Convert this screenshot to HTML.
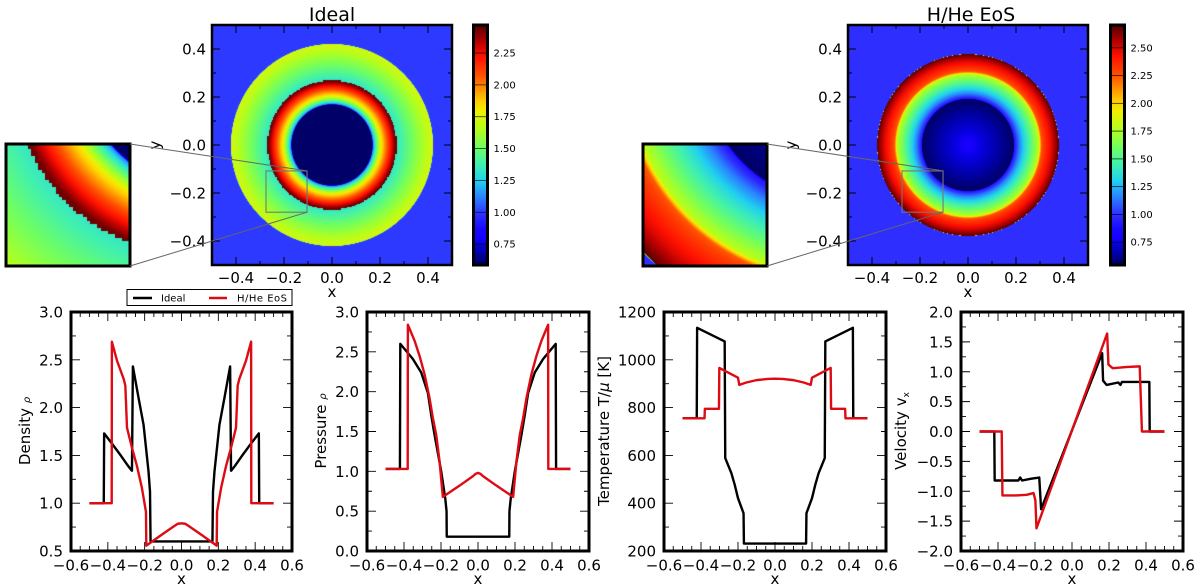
<!DOCTYPE html>
<html lang="en">
<head>
<meta charset="utf-8">
<title>Ideal vs H/He EoS blast wave</title>
<style>
html,body{margin:0;padding:0;background:#fff;width:1200px;height:588px;overflow:hidden;position:relative}
svg{display:block;position:absolute;left:0;top:0;z-index:1}
canvas{position:absolute;z-index:0;display:block}
text{font-family:"DejaVu Sans","Liberation Sans",sans-serif;fill:#000}
</style>
</head>
<body>
<svg id="figure" xmlns="http://www.w3.org/2000/svg" width="1200" height="588" viewBox="0 0 1200 588"></svg>
<script>
// ---- Data ----
const xIdealDensity = [-0.5,-0.422,-0.42,-0.38,-0.33,-0.29,-0.27,-0.269,-0.264,-0.233,-0.206,-0.179,-0.171,-0.168,0.168,0.171,0.179,0.206,0.233,0.264,0.269,0.27,0.29,0.33,0.38,0.42,0.422,0.5];
const idealDensity  = [1,1,1.73,1.63,1.5,1.39,1.34,1.34,2.43,2.1,1.82,1.33,1.12,0.6,0.6,1.12,1.33,1.82,2.1,2.43,1.34,1.34,1.39,1.5,1.63,1.73,1,1];
const xHeDensity = [-0.5,-0.379,-0.378,-0.35,-0.314,-0.305,-0.296,-0.269,-0.242,-0.215,-0.193,-0.191,-0.1,-0.04,-0.02,0,0.02,0.04,0.1,0.191,0.193,0.215,0.242,0.269,0.296,0.305,0.314,0.35,0.378,0.379,0.5];
const heDensity  = [1,1,2.69,2.49,2.3,2.23,1.79,1.58,1.39,1.16,0.91,0.556,0.68,0.76,0.785,0.79,0.785,0.76,0.68,0.556,0.91,1.16,1.39,1.58,1.79,2.23,2.3,2.49,2.69,1,1];

const xIdealPressure = [-0.5,-0.422,-0.42,-0.352,-0.307,-0.271,-0.253,-0.235,-0.199,-0.177,-0.17,-0.169,0.169,0.17,0.177,0.199,0.235,0.253,0.271,0.307,0.352,0.42,0.422,0.5];
const idealPressure  = [1.03,1.03,2.6,2.41,2.24,1.985,1.71,1.46,1.0,0.66,0.5,0.18,0.18,0.5,0.66,1.0,1.46,1.71,1.985,2.24,2.41,2.6,1.03,1.03];
const xHePressure = [-0.5,-0.38,-0.379,-0.343,-0.316,-0.289,-0.262,-0.244,-0.226,-0.208,-0.19,-0.1,-0.027,-0.012,0,0.012,0.027,0.1,0.19,0.208,0.226,0.244,0.262,0.289,0.316,0.343,0.379,0.38,0.5];
const hePressure  = [1.03,1.03,2.84,2.64,2.45,2.22,1.92,1.67,1.46,1.13,0.68,0.82,0.94,0.97,0.98,0.97,0.94,0.82,0.68,1.13,1.46,1.67,1.92,2.22,2.45,2.64,2.84,1.03,1.03];

const xIdealTemp = [-0.5,-0.423,-0.421,-0.272,-0.269,-0.236,-0.218,-0.2,-0.17,-0.168,0.168,0.17,0.2,0.218,0.236,0.269,0.272,0.421,0.423,0.5];
const idealTemp  = [755,755,1134,1077,589,526,478,421,358,231,231,358,421,478,526,589,1077,1134,755,755];
const xHeTemp = [-0.5,-0.381,-0.379,-0.303,-0.301,-0.2,-0.193,-0.155,-0.1,-0.04,0,0.04,0.1,0.155,0.193,0.2,0.301,0.303,0.379,0.381,0.5];
const heTemp  = [755,755,795,795,966,925,895,905,915,920,921,920,915,905,895,925,966,795,795,755,755];

const xIdealVel = [-0.5,-0.42,-0.418,-0.29,-0.28,-0.27,-0.22,-0.177,-0.167,0.163,0.168,0.187,0.25,0.262,0.27,0.418,0.42,0.5];
const idealVel  = [0,0,-0.82,-0.82,-0.77,-0.82,-0.79,-0.77,-1.3,1.31,0.85,0.78,0.82,0.78,0.83,0.83,0,0];
const xHeVel = [-0.5,-0.38,-0.376,-0.3,-0.245,-0.208,-0.198,-0.192,0.19,0.197,0.22,0.3,0.366,0.378,0.5];
const heVel  = [0,0,-1.07,-1.07,-1.06,-1.03,-1.15,-1.62,1.64,1.12,1.06,1.08,1.09,0,0];

const panelXTickLabels = ["\u22120.6","\u22120.4","\u22120.2","0.0","0.2","0.4","0.6"];
const panelXTickValues = [-0.6,-0.4,-0.2,0,0.2,0.4,0.6];
const heatTickValues = [-0.4,-0.2,0,0.2,0.4];
const heatTickLabels = ["\u22120.4","\u22120.2","0.0","0.2","0.4"];
const densityTicks = [0.5,1,1.5,2,2.5,3];
const densityTickLabels = ["0.5","1.0","1.5","2.0","2.5","3.0"];
const pressureTicks = [0,0.5,1,1.5,2,2.5,3];
const pressureTickLabels = ["0.0","0.5","1.0","1.5","2.0","2.5","3.0"];
const tempTicks = [200,400,600,800,1000,1200];
const tempTickLabels = ["200","400","600","800","1000","1200"];
const velTicks = [-2,-1.5,-1,-0.5,0,0.5,1,1.5,2];
const velTickLabels = ["\u22122.0","\u22121.5","\u22121.0","\u22120.5","0.0","0.5","1.0","1.5","2.0"];
const cbarIdealTicks = [0.75,1,1.25,1.5,1.75,2,2.25];
const cbarIdealLabels = ["0.75","1.00","1.25","1.50","1.75","2.00","2.25"];
const cbarHeTicks = [0.75,1,1.25,1.5,1.75,2,2.25,2.5];
const cbarHeLabels = ["0.75","1.00","1.25","1.50","1.75","2.00","2.25","2.50"];

// ---- Helpers ----
const NS = "http://www.w3.org/2000/svg";
const svg = document.getElementById("figure");
function make(tag, attrs, parent) {
  const el = document.createElementNS(NS, tag);
  for (const k in attrs) el.setAttribute(k, attrs[k]);
  (parent || svg).appendChild(el);
  return el;
}
function label(str, x, y, size, anchor, parent, rotate) {
  const attrs = {x:x, y:y, "font-size":size, "text-anchor":anchor || "middle"};
  if (rotate) attrs.transform = "rotate(-90 " + x + " " + y + ")";
  const t = make("text", attrs, parent);
  t.textContent = str;
  return t;
}
function linear(d0, d1, r0, r1) { return v => r0 + (v - d0) * (r1 - r0) / (d1 - d0); }

const stops = [[0,0,0,92],[.05,0,0,170],[.09,8,0,225],[.113,24,0,255],[.15,24,8,255],[.21,46,46,255],[.28,42,128,255],[.35,32,208,240],[.42,64,240,176],[.49,112,255,96],[.56,176,255,32],[.64,240,240,0],[.68,255,208,0],[.79,255,80,0],[.87,255,16,0],[.93,184,0,0],[1,80,0,0]];
function cmapRGB(t) {
  t = Math.max(0, Math.min(1, t));
  for (let i = 1; i < stops.length; i++) {
    if (t <= stops[i][0]) {
      const a = stops[i-1], b = stops[i], f = (t - a[0]) / (b[0] - a[0]);
      return [1,2,3].map(k => Math.round(a[k] + (b[k]-a[k]) * f));
    }
  }
  return [80,0,0];
}
function cmap(t) { return "rgb(" + cmapRGB(t).join(",") + ")"; }
function profile(xs, ys, r) {
  if (r >= 0.5) return ys[ys.length - 1];
  for (let i = 1; i < xs.length; i++) {
    if (r >= xs[i-1] && r <= xs[i]) {
      const span = xs[i] - xs[i-1];
      return span === 0 ? ys[i] : ys[i-1] + (ys[i] - ys[i-1]) * (r - xs[i-1]) / span;
    }
  }
  return ys[ys.length - 1];
}

// Heatmap pixels are coloured from the radial density arrays. When a shock radius is given,
// the side of the shock is decided per simulation cell, which gives the stair-stepped edge.
const gridStep = 1 / 208;
function paintHeat(left, top, w, h, x0, x1, yTop, yBottom, xs, ys, vmin, vmax, shock, name) {
  const cv = document.createElement("canvas");
  cv.width = w;
  cv.height = h;
  cv.style.left = left + "px";
  cv.style.top = top + "px";
  
  
  document.body.appendChild(cv);
  const ctx = cv.getContext("2d");
  const img = ctx.createImageData(w, h);
  for (let j = 0; j < h; j++) {
    const dy = yTop + (j + 0.5) / h * (yBottom - yTop);
    const cy = (Math.floor(dy / gridStep) + 0.5) * gridStep;
    for (let i = 0; i < w; i++) {
      const dx = x0 + (i + 0.5) / w * (x1 - x0);
      let r = Math.sqrt(dx*dx + dy*dy);
      if (shock) {
        const cx = (Math.floor(dx / gridStep) + 0.5) * gridStep;
        const rCell = Math.sqrt(cx*cx + cy*cy);
        if (rCell > shock[1]) r = Math.max(r, shock[1] + 0.0001);
        else r = Math.min(r, shock[0]);
      }
      const v = profile(xs, ys, r);
      const c = cmapRGB((v - vmin) / (vmax - vmin));
      const p = (j * w + i) * 4;
      img.data[p] = c[0];
      img.data[p+1] = c[1];
      img.data[p+2] = c[2];
      img.data[p+3] = 255;
    }
  }
  ctx.putImageData(img, 0, 0);
}

function drawHeat(cfg) {
  const g = make("g", {});
  
  
  const cx = cfg.cx, cy = 145;
  const L = cx - 120, R = cx + 120, T = 25, B = 265;
  const sx = linear(-0.5, 0.5, L, R), sy = linear(-0.5, 0.5, B, T);

  paintHeat(L, T, 240, 240, -0.5, 0.5, 0.5, -0.5, cfg.xs, cfg.ys, cfg.vmin, cfg.vmax, cfg.shock, cfg.name + "-image");

  for (let i = -4; i <= 4; i++) {
    const v = i / 10, major = i % 2 === 0, len = major ? 8 : 4;
    const d = "M" + sx(v) + " " + T + "v" + len + "M" + sx(v) + " " + B + "v" + (-len) + "M" + L + " " + sy(v) + "h" + len + "M" + R + " " + sy(v) + "h" + (-len);
    const t = make("path", {d:d, stroke:"#000", "stroke-width":1, fill:"none"}, g);
    
    
  }
  const frame = make("rect", {x:L, y:T, width:240, height:240, fill:"none", stroke:"#000", "stroke-width":2.5}, g);
  
  

  heatTickValues.forEach((v, i) => {
    const a = label(heatTickLabels[i], sx(v), 283, 15, "middle", g);
    
    
    const b = label(heatTickLabels[i], L - 6, sy(v) + 5.5, 15, "end", g);
    
    
  });
  const xt = label("x", cx, 297, 15, "middle", g);
  
  
  const yt = label("y", L - 52, cy, 15, "middle", g, true);
  
  
  const title = label(cfg.title, cfg.titleX, 21, 19, "middle", g);
  
  

  // inset
  const ix0 = cfg.insetX, ix1 = ix0 + 124, iy0 = 144, iy1 = 266;
  const wx0 = -0.275, wx1 = -0.104, wyT = -0.108, wyB = -0.28;
  paintHeat(ix0, iy0, ix1 - ix0, iy1 - iy0, wx0, wx1, wyT, wyB, cfg.xs, cfg.ys, cfg.vmin, cfg.vmax, cfg.shock, cfg.name + "-inset-image");
  const iframe = make("rect", {x:ix0, y:iy0, width:ix1-ix0, height:iy1-iy0, fill:"none", stroke:"#000", "stroke-width":3}, g);
  
  

  // zoom box + connectors
  const bx0 = sx(wx0), bx1 = sx(wx1), by0 = sy(wyT), by1 = sy(wyB);
  const box = make("rect", {x:bx0, y:by0, width:bx1-bx0, height:by1-by0, fill:"none", stroke:"#777", "stroke-width":1.1}, g);
  
  
  const c1 = make("line", {x1:ix1, y1:iy0, x2:bx1, y2:by0, stroke:"#666", "stroke-width":1}, g);
  
  
  const c2 = make("line", {x1:ix1, y1:iy1, x2:bx1, y2:by1, stroke:"#666", "stroke-width":1}, g);
  
  

  // colorbar
  const cbx = cfg.cbarX, cbw = 14, cbT = 25, cbB = 265;
  const cv = linear(cfg.vmin, cfg.vmax, cbB, cbT);
  const cb = make("g", {}, g);
  
  
  for (let py = cbT; py < cbB; py++) {
    const frac = (cbB - py - 0.5) / (cbB - cbT);
    const r = make("rect", {x:cbx, y:py, width:cbw, height:1.2, fill:cmap(frac)}, cb);
    
    
  }
  cfg.cbarTicks.forEach((v, i) => {
    const l = make("line", {x1:cbx, x2:cbx+cbw, y1:cv(v), y2:cv(v), stroke:"#000", "stroke-width":0.8, "stroke-opacity":0.8}, cb);
    
    
    const t = label(cfg.cbarLabels[i], cbx + cbw + 6, cv(v) + 3.5, 10, "start", cb);
    
    
  });
  const cf = make("rect", {x:cbx, y:cbT, width:cbw, height:cbB-cbT, fill:"none", stroke:"#000", "stroke-width":3}, cb);
  
  
}

function series(g, xs, ys, sx, sy, color, name) {
  const pts = xs.map((x, i) => sx(x).toFixed(2) + "," + sy(ys[i]).toFixed(2)).join(" ");
  const p = make("polyline", {points:pts, fill:"none", stroke:color, "stroke-width":2.4, "stroke-linejoin":"round"}, g);
  
  
}

function drawPanel(cfg) {
  const g = make("g", {});
  
  
  const L = cfg.left, R = cfg.right, T = 312, B = 551;
  const sx = linear(-0.6, 0.6, L, R), sy = linear(cfg.ymin, cfg.ymax, B, T);

  series(g, cfg.xa, cfg.ya, sx, sy, "#000", "series-ideal");
  series(g, cfg.xb, cfg.yb, sx, sy, "#de0a14", "series-hhe-eos");

  for (let i = -12; i <= 12; i++) {
    const v = i / 20, major = i % 4 === 0, len = major ? 9 : 5;
    const d = "M" + sx(v) + " " + T + "v" + len + "M" + sx(v) + " " + B + "v" + (-len);
    const t = make("path", {d:d, stroke:"#000", "stroke-width":0.9, fill:"none"}, g);
    
    
  }
  const n = Math.round((cfg.ymax - cfg.ymin) / cfg.minor);
  for (let i = 0; i <= n; i++) {
    const v = cfg.ymin + i * cfg.minor, major = i % 2 === 0, len = major ? 9 : 5;
    const d = "M" + L + " " + sy(v) + "h" + len + "M" + R + " " + sy(v) + "h" + (-len);
    const t = make("path", {d:d, stroke:"#000", "stroke-width":0.9, fill:"none"}, g);
    
    
  }
  const frame = make("rect", {x:L, y:T, width:R-L, height:B-T, fill:"none", stroke:"#000", "stroke-width":3}, g);
  
  

  panelXTickValues.forEach((v, i) => {
    const t = label(panelXTickLabels[i], sx(v), 570.5, 15, "middle", g);
    
    
  });
  cfg.ticks.forEach((v, i) => {
    const t = label(cfg.tickLabels[i], L - 8, sy(v) + 5.5, 15, "end", g);
    
    
  });
  const xt = label("x", (L + R) / 2, 584, 15, "middle", g);
  
  

  const yt = make("text", {x:cfg.ylabelX, y:431, "font-size":15, "text-anchor":"middle", transform:"rotate(-90 " + cfg.ylabelX + " 431)"}, g);
  
  
  cfg.ylabel.forEach(part => {
    const s = make("tspan", part.attrs || {}, yt);
    s.textContent = part.text;
  });
}

// ---- Draw ----
drawHeat({name:"heatmap-ideal", cx:332, title:"Ideal", titleX:332, insetX:6, cbarX:473.5, xs:xIdealDensity, ys:idealDensity, vmin:0.586, vmax:2.47, shock:[0.264, 0.2695], cbarTicks:cbarIdealTicks, cbarLabels:cbarIdealLabels});
drawHeat({name:"heatmap-hhe-eos", cx:968, title:"H/He EoS", titleX:971, insetX:643, cbarX:1110.5, xs:xHeDensity, ys:heDensity, vmin:0.545, vmax:2.705, shock:null, cbarTicks:cbarHeTicks, cbarLabels:cbarHeLabels});

drawPanel({name:"density-panel", left:71, right:292, ymin:0.5, ymax:3, minor:0.25, xa:xIdealDensity, ya:idealDensity, xb:xHeDensity, yb:heDensity, ticks:densityTicks, tickLabels:densityTickLabels, ylabelX:30, ylabel:[{text:"Density "},{text:"\u03C1", attrs:{"font-size":10,"font-style":"italic"}}]});
drawPanel({name:"pressure-panel", left:367, right:589, ymin:0, ymax:3, minor:0.25, xa:xIdealPressure, ya:idealPressure, xb:xHePressure, yb:hePressure, ticks:pressureTicks, tickLabels:pressureTickLabels, ylabelX:326, ylabel:[{text:"Pressure "},{text:"\u03C1", attrs:{"font-size":10,"font-style":"italic"}}]});
drawPanel({name:"temperature-panel", left:664, right:886, ymin:200, ymax:1200, minor:100, xa:xIdealTemp, ya:idealTemp, xb:xHeTemp, yb:heTemp, ticks:tempTicks, tickLabels:tempTickLabels, ylabelX:609, ylabel:[{text:"Temperature T/"},{text:"\u03BC", attrs:{"font-style":"italic"}},{text:" [K]"}]});
drawPanel({name:"velocity-panel", left:961, right:1183, ymin:-2, ymax:2, minor:0.25, xa:xIdealVel, ya:idealVel, xb:xHeVel, yb:heVel, ticks:velTicks, tickLabels:velTickLabels, ylabelX:906, ylabel:[{text:"Velocity v"},{text:"x", attrs:{"font-size":9, dy:3}}]});

// ---- Legend ----
const legend = make("g", {});


const legendBox = make("rect", {x:127, y:289.5, width:165, height:16, fill:"#fff", stroke:"#000", "stroke-width":1}, legend);


const lineIdeal = make("line", {x1:133, x2:152, y1:298, y2:298, stroke:"#000", "stroke-width":2.4}, legend);


const textIdeal = label("Ideal", 161, 301.5, 10, "start", legend);


const lineHe = make("line", {x1:209, x2:227, y1:298, y2:298, stroke:"#de0a14", "stroke-width":2.4}, legend);


const textHe = label("H/He EoS", 237, 301.5, 10, "start", legend);
textHe.setAttribute('textLength', '50');


</script>
</body>
</html>
